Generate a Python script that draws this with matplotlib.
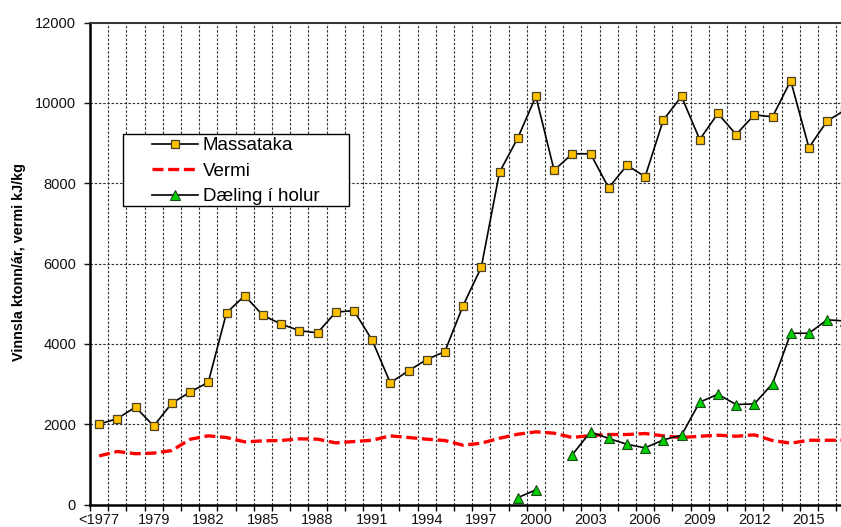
import numpy as np
import matplotlib
matplotlib.use("Agg")
import matplotlib.pyplot as plt
from matplotlib.patches import Rectangle

plt.rcParams['font.family'] = ['Liberation Sans', 'DejaVu Sans']

categories = ["<1977"] + [str(y) for y in range(1977, 2018)]
massataka = [2000, 2140, 2425, 1955, 2525, 2800, 3045, 4775, 5200, 4710,
             4495, 4330, 4275, 4790, 4830, 4095, 3030, 3330, 3610, 3810,
             4955, 5910, 8275, 9125, 10165, 8325, 8735, 8735, 7885, 8450,
             8165, 9575, 10165, 9090, 9740, 9215, 9705, 9655, 10555, 8890,
             9550, 9830]
vermi = [1210, 1320, 1265, 1280, 1345, 1625, 1710, 1668, 1560, 1585,
         1595, 1635, 1627, 1535, 1568, 1600, 1710, 1668, 1627, 1593,
         1477, 1527, 1650, 1750, 1810, 1776, 1668, 1718, 1743, 1743,
         1768, 1710, 1668, 1700, 1726, 1700, 1735, 1593, 1527, 1600,
         1600, 1600]
daeling = [None] * 23 + [170, 365, None, 1240, 1810, 1645, 1500, 1410, 1610,
                         1725, 2550, 2745, 2490, 2505, 3010, 4265, 4265, 4600,
                         4570]
yticks = [0, 2000, 4000, 6000, 8000, 10000, 12000]
label_names = ["Massataka", "Vermi", "Dæling í holur"]
ylabel = "Vinnsla ktonn/ár, vermi kJ/kg"

x = np.arange(len(categories))
m = np.array(massataka, dtype=float)
v = np.array(vermi, dtype=float)
d = np.array([np.nan if e is None else e for e in daeling], dtype=float)

W, H = 841, 527
fig = plt.figure(figsize=(W / 100, H / 100), dpi=100)
ax = fig.add_axes([90 / W, (H - 504.5) / H, 1 - 90 / W, (504.5 - 22.7) / H])

grid_kw = dict(color='#333333', linestyle=(0, (2.2, 1.6)), linewidth=0.8)
ax.set_axisbelow(True)

l1, = ax.plot(x, m, color='black', lw=1.2, marker='s', ms=6.4,
              mfc='#FFC000', mec='#4a4020', mew=0.9, zorder=4, label=label_names[0])
l2, = ax.plot(x, v, color='#FF0000', lw=2.4, linestyle=(0, (3.3, 1.4)),
              solid_joinstyle='round', dash_joinstyle='round', zorder=3,
              label=label_names[1])
l3, = ax.plot(x, d, color='black', lw=1.2, marker='^', ms=7.5,
              mfc='#00D000', mec='#1a4a1a', mew=0.8, zorder=5, label=label_names[2])

ax.set_yticks(yticks)
ax.set_yticklabels([str(t) for t in yticks])
ax.set_xticks(x[::3])
ax.set_xticklabels([categories[i] for i in x[::3]])
ax.set_xticks(np.arange(-0.5, len(categories), 1), minor=True)

ax.set_xlim(-0.5, (W - 90) / 18.2 - 0.5)
ax.set_ylim(0, 12000)

ax.tick_params(axis='x', which='major', length=0, pad=6, labelsize=10.5, colors='#111111')
ax.tick_params(axis='x', which='minor', length=4, width=1.0, direction='out', color='black')
ax.tick_params(axis='y', which='major', length=4, width=1.0, direction='out', pad=6,
               labelsize=10.5, colors='#111111')

ax.grid(which='minor', axis='x', **grid_kw)
ax.grid(which='major', axis='y', **grid_kw)
ax.grid(which='major', axis='x', visible=False)

for s in ['left', 'bottom']:
    ax.spines[s].set_linewidth(1.8)
    ax.spines[s].set_color('black')
ax.spines['top'].set_linewidth(1.4)
ax.spines['top'].set_color('#333333')
ax.spines['right'].set_visible(False)

fig.text(18.6 / W, 1 - 262 / H, ylabel, rotation=90, ha='center', va='center',
         fontsize=10.4, fontweight='bold')

# legend frame drawn separately to reproduce its wide padding
frame = Rectangle((123.3 / W, 1 - 206 / H), (349.3 - 123.3) / W, (206 - 134.3) / H,
                  transform=fig.transFigure, facecolor='white', edgecolor='black',
                  linewidth=1.0, zorder=9)
fig.add_artist(frame)

leg = fig.legend(handles=[l1, l2, l3], loc='upper left',
                 bbox_to_anchor=(152 / W, 1 - 137 / H),
                 bbox_transform=fig.transFigure, borderaxespad=0,
                 fontsize=13.5, handlelength=2.45, handletextpad=0.25,
                 labelspacing=0.45, borderpad=0.0, frameon=False, numpoints=1)
leg.set_zorder(10)

fig.savefig("out.png", dpi=100)
